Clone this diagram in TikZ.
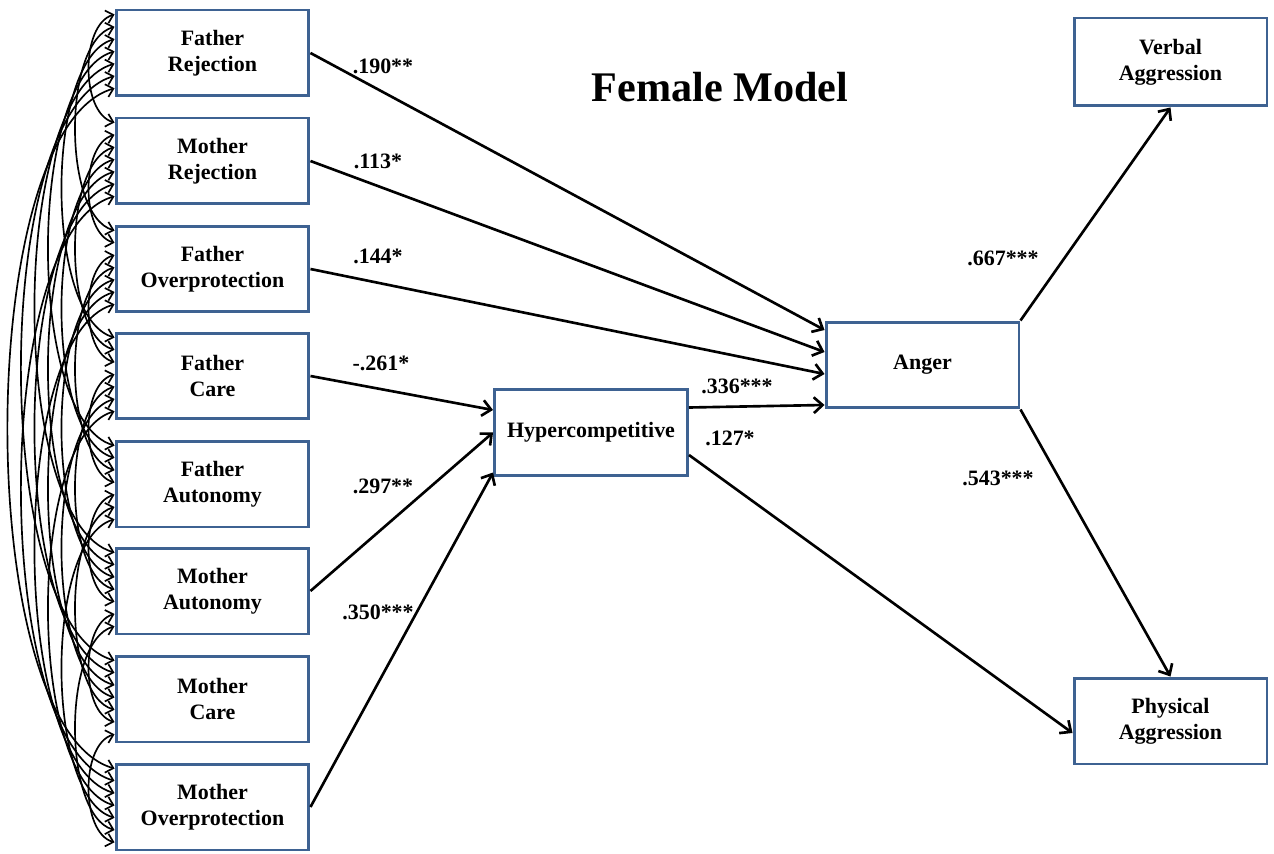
\documentclass[tikz,border=0pt]{standalone}
\usepackage{fontspec}
\setmainfont{Liberation Serif}
\usetikzlibrary{arrows.meta,calc}
\definecolor{boxblue}{RGB}{62,98,146}
\tikzset{
  var/.style={draw=boxblue,line width=1.7pt,fill=white,minimum width=3.86cm,minimum height=1.72cm,
    align=center,font=\fontsize{12.5}{14.7}\selectfont\bfseries},
  path/.style={line width=1.5pt,-{Straight Barb[length=5pt,width=9pt]}},
  cov/.style={line width=0.95pt,{Straight Barb[length=4pt,width=7.5pt]}-{Straight Barb[length=4pt,width=7.5pt]}},
  coef/.style={font=\fontsize{12.5}{14.7}\selectfont\bfseries}
}
\begin{document}
\begin{tikzpicture}[x=0.02cm,y=0.02cm]
  \useasboundingbox (0,0) rectangle (1274,853);

  % exogenous variables
  \node[var] (p1) at (212.5,800) {Father\\Rejection};
  \node[var] (p2) at (212.5,692) {Mother\\Rejection};
  \node[var] (p3) at (212.5,584) {Father\\Overprotection};
  \node[var] (p4) at (212.5,477) {Father\\Care};
  \node[var] (p5) at (212.5,369) {Father\\Autonomy};
  \node[var] (p6) at (212.5,262) {Mother\\Autonomy};
  \node[var] (p7) at (212.5,154) {Mother\\Care};
  \node[var] (p8) at (212.5,46) {Mother\\Overprotection};

  \node[var] (hyper) at (591,420.5) {Hypercompetitive};
  \node[var] (anger) at (922.5,488) {Anger};
  \node[var,minimum height=1.76cm] (verbal) at (1170.5,791) {Verbal\\Aggression};
  \node[var] (physical) at (1170.5,132) {Physical\\Aggression};

  \node[font=\fontsize{24}{28}\selectfont\bfseries] (title) at (720,766) {Female Model};

  % covariances
  \foreach \i in {1,...,7}{
    \pgfmathtruncatemacro\nxt{\i+1}
    \foreach \j in {\nxt,...,8}{
      \pgfmathsetmacro\ka{6+12.3*(\j-2)}
      \pgfmathsetmacro\kb{6+12.3*(\i-1)}
      \pgfmathsetmacro\c{(12+13.5*(\j-\i))/0.72}
      \draw[cov] ($(p\i.north west)+(0,-\ka)$) .. controls +(196:\c) and +(164:\c) .. ($(p\j.north west)+(0,-\kb)$);
    }
  }

  % paths
  \draw[path] (p1.east) -- ([yshift=0.7cm]anger.west);
  \draw[path] (p2.east) -- ([yshift=0.26cm]anger.west);
  \draw[path] (p3.east) -- ([yshift=-0.18cm]anger.west);
  \draw[path] (p4.east) -- ([yshift=0.45cm]hyper.west);
  \draw[path] (p6.east) -- (hyper.west);
  \draw[path] (p8.east) -- ([yshift=-0.8cm]hyper.west);
  \draw[path] ([yshift=0.5cm]hyper.east) -- ([yshift=-0.8cm]anger.west);
  \draw[path] ([yshift=-0.45cm]hyper.east) -- ([yshift=-0.24cm]physical.west);
  \draw[path] (anger.north east) -- (verbal.south);
  \draw[path] (anger.south east) -- (physical.north);

  % coefficients
  \node[coef] (c1) at (383,787) {.190**};
  \node[coef] (c2) at (378,692) {.113*};
  \node[coef] (c3) at (378,597) {.144*};
  \node[coef] (c4) at (381,490) {-.261*};
  \node[coef] (c5) at (383,367) {.297**};
  \node[coef] (c6) at (378,241) {.350***};
  \node[coef] (c7) at (737,467) {.336***};
  \node[coef] (c8) at (730,415) {.127*};
  \node[coef] (c9) at (1003,595) {.667***};
  \node[coef] (c10) at (998,375) {.543***};
\end{tikzpicture}
\end{document}
